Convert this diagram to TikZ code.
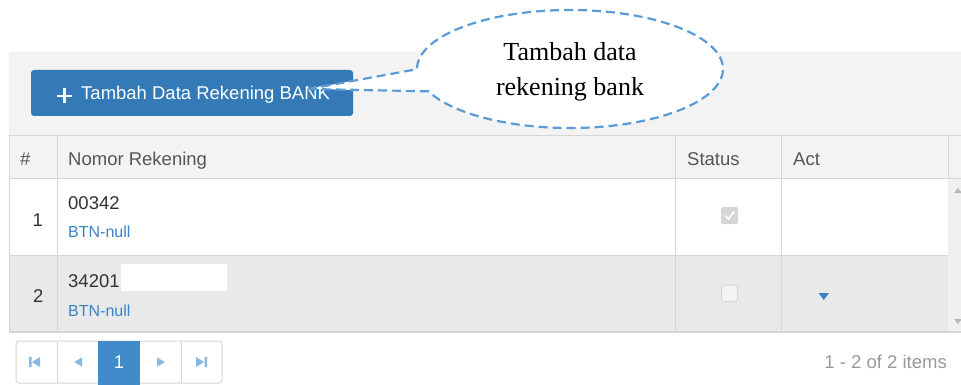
\documentclass[tikz,border=0pt]{standalone}
\usepackage{fontspec}
\setmainfont{Liberation Serif}
\newfontfamily\uifont{Liberation Sans}
\usepackage{xcolor}
\usetikzlibrary{positioning,calc,shapes.callouts,shapes.geometric}

\definecolor{panelgrey}{HTML}{F3F3F3}
\definecolor{rowgrey}{HTML}{E9E9E9}
\definecolor{linegrey}{HTML}{D6D6D6}
\definecolor{scrollgrey}{HTML}{F0F0F0}
\definecolor{btnblue}{HTML}{337AB7}
\definecolor{linkblue}{HTML}{3A82C4}
\definecolor{pageblue}{HTML}{428BCA}
\definecolor{iconblue}{HTML}{86B8E2}
\definecolor{calloutblue}{HTML}{5B9BD5}
\definecolor{txtdark}{HTML}{333333}
\definecolor{txthead}{HTML}{555555}
\definecolor{txtlight}{HTML}{9A9A9A}

\begin{document}
\begin{tikzpicture}[
	x=1pt, y=-1pt,
	% chu giao dien
	ui_text/.style={font={\uifont\fontsize{18.5}{22}\selectfont}, text=txtdark, inner sep=0pt, anchor=base west},
	head_text/.style={ui_text, text=txthead},
	link_text/.style={ui_text, font={\uifont\fontsize{16}{19}\selectfont}, text=linkblue},
	grid_line/.style={draw=linegrey, line width=1pt},
	page_icon/.style={fill=iconblue},
	callout_box/.style={
		ellipse callout, draw=calloutblue, fill=white,
		line width=2.2pt, dash pattern=on 9pt off 5pt,
		minimum width=306pt, minimum height=118pt, inner sep=0pt,
		align=center, text depth=0pt, font={\fontsize{26}{35}\selectfont},
		callout pointer arc=22
	}
	]
	\useasboundingbox (0,0) rectangle (961,385);
	
	% --- KHUNG + THANH CONG CU ---
	\fill[panelgrey] (9,178) [rounded corners=3pt] -- (9,52) [sharp corners] -- (961,52) -- (961,178) -- cycle;
	\draw[draw=linegrey!60] (9,136) [rounded corners=3pt] |- (961,52);
	
	% nut tambah
	\node[fill=btnblue, rounded corners=3pt, minimum width=322pt, minimum height=46pt, inner sep=0pt] (btn_add) at (192,93) {};
	\draw[white, line width=2.6pt] (57,96) -- (72,96) (64.5,88.5) -- (64.5,103.5);
	\node[ui_text, text=white] (btn_label) at (81,100) {Tambah Data Rekening BANK};
	
	% --- BANG ---
	\fill[white] (9,178) rectangle (948,255);
	\fill[rowgrey] (9,255) rectangle (948,332);
	\fill[scrollgrey] (948,178) rectangle (961,332);
	\draw[grid_line] (9,136) -- (961,136);
	\draw[grid_line] (9,178) -- (961,178);
	\draw[grid_line] (9,255) -- (948,255);
	\draw[grid_line, line width=2pt] (9,332) -- (961,332);
	\draw[grid_line] (9,136) -- (9,333);
	\draw[grid_line] (57,136) -- (57,332);
	\draw[grid_line] (675,136) -- (675,332);
	\draw[grid_line] (781,136) -- (781,332);
	\draw[grid_line] (948,136) -- (948,178);
	% panah scrollbar
	\fill[txtlight!70] (954,193) -- (962,193) -- (958,188) -- cycle;
	\fill[txtlight!70] (954,319) -- (962,319) -- (958,324) -- cycle;
	
	% tieu de cot
	\node[head_text] (h_num) at (20,165) {\#};
	\node[head_text] (h_nomor) at (68,165) {Nomor Rekening};
	\node[head_text] (h_status) at (687,165) {Status};
	\node[head_text] (h_act) at (793,165) {Act};
	
	% hang 1
	\node[ui_text, anchor=base east] (r1_no) at (43,226) {1};
	\node[ui_text] (r1_acc) at (68,209) {00342};
	\node[link_text] (r1_bank) at (68,237) {BTN-null};
	\fill[linegrey, rounded corners=2pt] (721,207) rectangle (738,224);
	\draw[white, line width=1.6pt] (725,215.5) -- (728.5,219) -- (734,211.5);
	
	% hang 2
	\node[ui_text, anchor=base east] (r2_no) at (43.5,302) {2};
	\node[ui_text] (r2_acc) at (68,287) {34201};
	\fill[white] (121,264) rectangle (227,291);
	\node[link_text] (r2_bank) at (68,316) {BTN-null};
	\draw[draw=linegrey, fill=panelgrey, rounded corners=2.5pt, line width=1pt] (721.5,285) rectangle (737.5,301.5);
	\fill[linkblue] (818.5,293) -- (829,293) -- (823.75,300) -- cycle;
	
	% --- PHAN TRANG ---
	\draw[draw=linegrey, fill=white, rounded corners=3pt, line width=1pt] (16,341) rectangle (222,383);
	\fill[pageblue] (98,341) rectangle (140,385);
	\draw[grid_line] (57,341) -- (57,383);
	\draw[grid_line] (181,341) -- (181,383);
	\node[ui_text, text=white, anchor=base] (pg_cur) at (119,368.5) {1};
	\fill[page_icon] (29,357) rectangle (31.5,367) (40,357) -- (40,367) -- (32,362) -- cycle;
	\fill[page_icon] (82,357.5) -- (82,366.5) -- (74,362) -- cycle;
	\fill[page_icon] (157,357.5) -- (157,366.5) -- (165,362) -- cycle;
	\fill[page_icon] (196,357) -- (196,367) -- (204,362) -- cycle (204.5,357) rectangle (207,367);
	\node[ui_text, text=txtlight, anchor=base east] (pg_info) at (947,368) {1 - 2 of 2 items};
	
	% --- CHU THICH ---
	\coordinate (btn_tip) at (308,89);
	\node[callout_box, callout absolute pointer={(btn_tip)}] (note) at (570,69) {Tambah data\\rekening bank};
	
\end{tikzpicture}
\end{document}
